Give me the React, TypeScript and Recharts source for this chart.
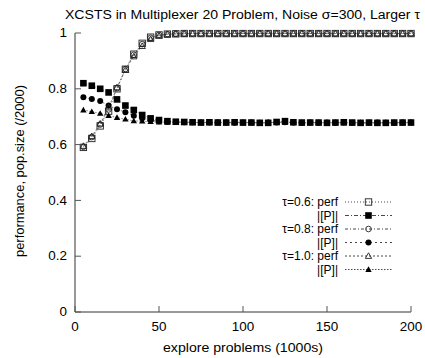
import React from 'react';
import { LineChart, Line, XAxis, YAxis, Customized } from 'recharts';

const explore = [5, 10, 15, 20, 25, 30, 35, 40, 45, 50, 55, 60, 65, 70, 75, 80, 85, 90, 95, 100, 105, 110, 115, 120, 125, 130, 135, 140, 145, 150, 155, 160, 165, 170, 175, 180, 185, 190, 195, 200];

const perf06 = [0.59, 0.622, 0.667, 0.72, 0.8, 0.87, 0.924, 0.963, 0.985, 0.993, 0.996, 0.997, 0.998, 0.998, 0.998, 0.998, 0.998, 0.998, 0.998, 0.998, 0.998, 0.998, 0.998, 0.998, 0.998, 0.998, 0.998, 0.998, 0.998, 0.998, 0.998, 0.998, 0.998, 0.998, 0.998, 0.998, 0.998, 0.998, 0.998, 0.998];
const pop06 = [0.82, 0.811, 0.8, 0.787, 0.762, 0.74, 0.724, 0.706, 0.694, 0.688, 0.684, 0.682, 0.681, 0.68, 0.679, 0.68, 0.679, 0.679, 0.68, 0.679, 0.679, 0.678, 0.678, 0.681, 0.684, 0.68, 0.679, 0.679, 0.679, 0.678, 0.679, 0.68, 0.679, 0.678, 0.679, 0.678, 0.678, 0.679, 0.679, 0.679];
const perf08 = [0.592, 0.627, 0.672, 0.726, 0.802, 0.871, 0.922, 0.96, 0.983, 0.993, 0.996, 0.997, 0.998, 0.998, 0.998, 0.998, 0.998, 0.998, 0.998, 0.998, 0.998, 0.998, 0.998, 0.998, 0.998, 0.998, 0.998, 0.998, 0.998, 0.998, 0.998, 0.998, 0.998, 0.998, 0.998, 0.998, 0.998, 0.998, 0.998, 0.998];
const pop08 = [0.77, 0.763, 0.756, 0.74, 0.727, 0.716, 0.703, 0.694, 0.688, 0.684, 0.682, 0.681, 0.68, 0.68, 0.679, 0.679, 0.68, 0.679, 0.678, 0.679, 0.679, 0.678, 0.679, 0.679, 0.68, 0.679, 0.678, 0.679, 0.678, 0.679, 0.678, 0.679, 0.678, 0.677, 0.678, 0.679, 0.678, 0.678, 0.679, 0.679];
const perf10 = [0.595, 0.63, 0.675, 0.733, 0.805, 0.868, 0.916, 0.953, 0.978, 0.99, 0.995, 0.997, 0.997, 0.998, 0.998, 0.998, 0.998, 0.998, 0.998, 0.998, 0.998, 0.998, 0.998, 0.998, 0.998, 0.998, 0.998, 0.998, 0.998, 0.998, 0.998, 0.998, 0.998, 0.998, 0.998, 0.998, 0.998, 0.998, 0.998, 0.998];
const pop10 = [0.724, 0.718, 0.712, 0.704, 0.697, 0.691, 0.685, 0.684, 0.682, 0.681, 0.68, 0.68, 0.679, 0.679, 0.679, 0.679, 0.678, 0.679, 0.679, 0.678, 0.679, 0.678, 0.679, 0.679, 0.68, 0.679, 0.678, 0.679, 0.679, 0.678, 0.679, 0.678, 0.678, 0.679, 0.678, 0.678, 0.679, 0.678, 0.678, 0.679];

const xTicks = [0, 50, 100, 150, 200];
const yTicks = [0, 0.2, 0.4, 0.6, 0.8, 1];

const title = 'XCSTS in Multiplexer 20 Problem, Noise \u03c3=300, Larger \u03c4';
const xLabel = 'explore problems (1000s)';
const yLabel = 'performance, pop.size (/2000)';
const legendLabels = ['\u03c4=0.6: perf', '|[P]|', '\u03c4=0.8: perf', '|[P]|', '\u03c4=1.0: perf', '|[P]|'];

const data = explore.map((x, i) => ({
  x,
  perf06: perf06[i],
  pop06: pop06[i],
  perf08: perf08[i],
  pop08: pop08[i],
  perf10: perf10[i],
  pop10: pop10[i],
}));

const FONT = '"Liberation Sans", Arial, sans-serif';
const TICK = '#555';
const LINE = '#666';
const TICK_SX = 1.12;

type MarkerKind = 'osq' | 'fsq' | 'ocirc' | 'fcirc' | 'otri' | 'ftri';

const Marker = ({ kind, cx, cy }: { kind: MarkerKind; cx: number; cy: number }) => {
  if (cx == null || cy == null || isNaN(cx) || isNaN(cy)) return null;
  switch (kind) {
    case 'osq':
      return <rect x={cx - 3.2} y={cy - 3.2} width={6.4} height={6.4} fill="none" stroke="#222" strokeWidth={0.9} />;
    case 'fsq':
      return <rect x={cx - 3.3} y={cy - 3.3} width={6.6} height={6.6} fill="#000" />;
    case 'ocirc':
      return <circle cx={cx} cy={cy} r={2.8} fill="none" stroke="#222" strokeWidth={0.9} />;
    case 'fcirc':
      return <circle cx={cx} cy={cy} r={3} fill="#000" />;
    case 'otri':
      return <polygon points={`${cx},${cy - 3.2} ${cx - 3.2},${cy + 2.4} ${cx + 3.2},${cy + 2.4}`} fill="none" stroke="#222" strokeWidth={0.9} />;
    case 'ftri':
      return <polygon points={`${cx},${cy - 3.2} ${cx - 3.2},${cy + 2.4} ${cx + 3.2},${cy + 2.4}`} fill="#000" />;
  }
  return null;
};

const series: { key: string; kind: MarkerKind; dash: string }[] = [
  { key: 'perf06', kind: 'osq', dash: '1 2' },
  { key: 'pop06', kind: 'fsq', dash: '4 2 1 2' },
  { key: 'perf08', kind: 'ocirc', dash: '3 2 1 2' },
  { key: 'pop08', kind: 'fcirc', dash: '2 3' },
  { key: 'perf10', kind: 'otri', dash: '2 2' },
  { key: 'pop10', kind: 'ftri', dash: '1.5 1.5' },
];

const BottomTick = (p: any) => (
  <g>
    <line x1={p.x} y1={p.y} x2={p.x} y2={p.y - 6} stroke={TICK} strokeWidth={1} />
    <text transform={`translate(${p.x},${p.y + 19}) scale(${TICK_SX},1)`} textAnchor="middle" fontSize={12} fontFamily={FONT} fill="#000">{p.payload.value}</text>
  </g>
);
const TopTick = (p: any) => (
  <line x1={p.x} y1={p.y} x2={p.x} y2={p.y + 6} stroke={TICK} strokeWidth={1} />
);
const LeftTick = (p: any) => (
  <g>
    <line x1={p.x} y1={p.y} x2={p.x + 6} y2={p.y} stroke={TICK} strokeWidth={1} />
    <text transform={`translate(${p.x - 8},${p.y + 4.2}) scale(${TICK_SX},1)`} textAnchor="end" fontSize={12} fontFamily={FONT} fill="#000">{p.payload.value}</text>
  </g>
);
const RightTick = (p: any) => (
  <line x1={p.x} y1={p.y} x2={p.x - 6} y2={p.y} stroke={TICK} strokeWidth={1} />
);

const LegendBox = () => {
  const top = 202;
  const step = 13.5;
  return (
    <g>
      {series.map((s, i) => {
        const cy = top + i * step;
        return (
          <g key={s.key}>
            <text x={338} y={cy + 4.2} textAnchor="end" fontSize={12} fontFamily={FONT} fill="#000">{legendLabels[i]}</text>
            <line x1={345} y1={cy} x2={392} y2={cy} stroke="#333" strokeWidth={0.9} strokeDasharray={s.dash} />
            <Marker kind={s.kind} cx={368.5} cy={cy} />
          </g>
        );
      })}
    </g>
  );
};

const Labels = () => (
  <g fontFamily={FONT} fill="#000">
    <text x={65} y={19} fontSize={12} textLength={355} lengthAdjust="spacingAndGlyphs">{title}</text>
    <text x={163} y={351.5} fontSize={12} textLength={160} lengthAdjust="spacingAndGlyphs">{xLabel}</text>
    <text x={0} y={0} fontSize={12} textLength={172} lengthAdjust="spacingAndGlyphs" transform="translate(23.8,257) rotate(-90)">{yLabel}</text>
  </g>
);

export default function App() {
  return (
    <div style={{ position: 'absolute', left: 0, top: 0, background: '#fff' }}>
      <LineChart
        width={425}
        height={358}
        data={data}
        margin={{ top: 33, right: 14, bottom: 0, left: 0 }}
        style={{ fontFamily: FONT }}
      >
        <XAxis
          dataKey="x"
          type="number"
          domain={[0, 200]}
          ticks={xTicks}
          height={46}
          tickSize={0}
          tickMargin={0}
          tickLine={false}
          axisLine={{ stroke: '#333', strokeWidth: 1 }}
          tick={BottomTick}
          interval={0}
        />
        <XAxis
          xAxisId="top"
          orientation="top"
          dataKey="x"
          type="number"
          domain={[0, 200]}
          ticks={xTicks}
          height={0}
          tickSize={0}
          tickMargin={0}
          tickLine={false}
          axisLine={{ stroke: '#333', strokeWidth: 1 }}
          tick={TopTick}
          interval={0}
        />
        <YAxis
          type="number"
          domain={[0, 1]}
          ticks={yTicks}
          width={75}
          tickSize={0}
          tickMargin={0}
          tickLine={false}
          axisLine={{ stroke: '#333', strokeWidth: 1 }}
          tick={LeftTick}
          interval={0}
        />
        <YAxis
          yAxisId="right"
          orientation="right"
          type="number"
          domain={[0, 1]}
          ticks={yTicks}
          width={0}
          tickSize={0}
          tickMargin={0}
          tickLine={false}
          axisLine={{ stroke: '#333', strokeWidth: 1 }}
          tick={RightTick}
          interval={0}
        />
        {series.map((s) => (
          <Line
            key={s.key}
            dataKey={s.key}
            type="linear"
            stroke={LINE}
            strokeWidth={0.8}
            strokeDasharray={s.dash}
            isAnimationActive={false}
            dot={(props: any) => <Marker key={`${s.key}-${props.index}`} kind={s.kind} cx={props.cx} cy={props.cy} />}
            activeDot={false}
          />
        ))}
        <Customized component={LegendBox} />
        <Customized component={Labels} />
      </LineChart>
    </div>
  );
}
